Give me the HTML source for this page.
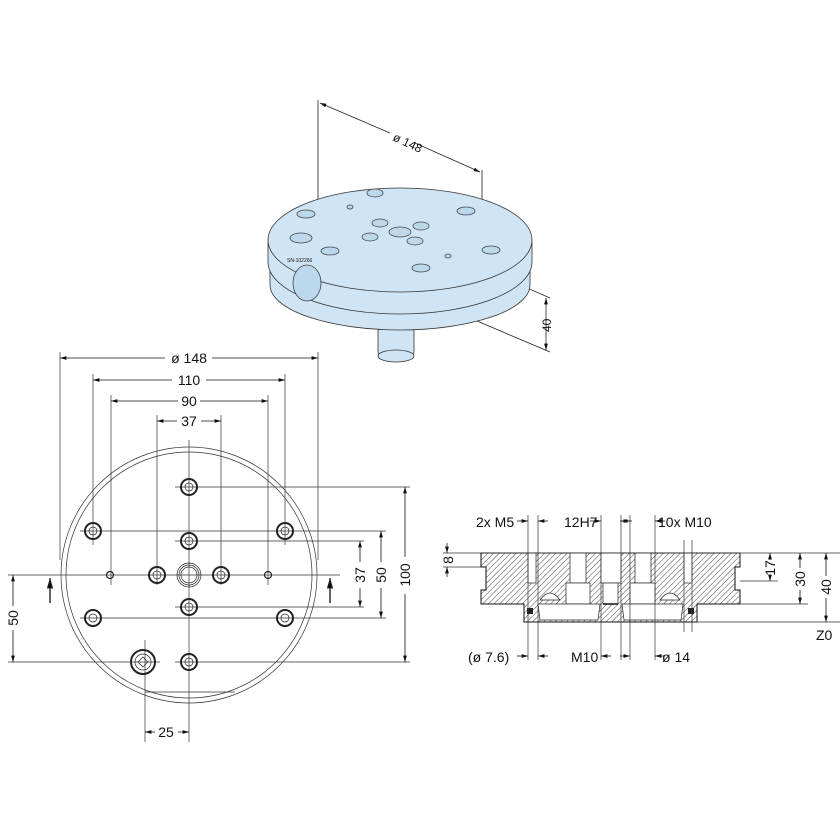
<!DOCTYPE html>
<html><head><style>
html,body{margin:0;padding:0;background:#fff}
svg{display:block}
text{font-family:"Liberation Sans",sans-serif;fill:#111}
</style></head><body>
<svg width="840" height="840" viewBox="0 0 840 840" xmlns="http://www.w3.org/2000/svg">
<defs>
<pattern id="h" width="4" height="4" patternUnits="userSpaceOnUse" patternTransform="rotate(45)">
<rect width="4" height="4" fill="#fff"/><line x1="0" y1="0" x2="0" y2="4" stroke="#333" stroke-width="0.9"/>
</pattern>
<marker id="a" viewBox="0 0 10 6" refX="10" refY="3" markerWidth="8" markerHeight="5" orient="auto-start-reverse"><path d="M0,0L10,3L0,6z" fill="#111"/></marker>
</defs>

<!-- ===== 3D view ===== -->
<g stroke="#222" stroke-width="0.8">
<line x1="318" y1="100" x2="318" y2="200"/>
<line x1="482" y1="170" x2="482" y2="270"/>
<line x1="320" y1="103" x2="390" y2="133" marker-start="url(#a)"/>
<line x1="415" y1="143" x2="480" y2="172" marker-end="url(#a)"/>
<line x1="470" y1="263" x2="550" y2="298"/>
<line x1="470" y1="318" x2="550" y2="352"/>
<line x1="546" y1="298" x2="546" y2="350" marker-end="url(#a)" marker-start="url(#a)"/>
</g>
<text x="392" y="140" font-size="12" transform="rotate(25 392 140)">ø 148</text>
<text x="551" y="332" font-size="12" transform="rotate(-90 551 332)">40</text>
<g stroke="#333" stroke-width="0.8" fill="#cfe5f5">
<rect x="378" y="318" width="36" height="38" rx="4"/>
<ellipse cx="396" cy="356" rx="18" ry="6"/>
<path d="M270,260 L270,285 A130,45 0 0 0 530,285 L530,260 Z"/>
<path d="M268,242 L268,262 A132,52 0 0 0 532,262 L532,242 Z"/>
<ellipse cx="400" cy="240" rx="132" ry="52"/>
</g>
<g stroke="#444" stroke-width="0.8" fill="#bcd8ec">
<ellipse cx="375" cy="193" rx="8" ry="4"/><ellipse cx="306" cy="214" rx="9" ry="4"/>
<ellipse cx="466" cy="211" rx="9" ry="4"/><ellipse cx="380" cy="223" rx="8" ry="4"/>
<ellipse cx="421" cy="226" rx="8" ry="4"/><ellipse cx="400" cy="232" rx="11" ry="5"/>
<ellipse cx="370" cy="237" rx="8" ry="4"/><ellipse cx="415" cy="241" rx="8" ry="4"/>
<ellipse cx="301" cy="238" rx="11" ry="5"/><ellipse cx="330" cy="251" rx="9" ry="4"/>
<ellipse cx="491" cy="250" rx="9" ry="4"/><ellipse cx="421" cy="268" rx="9" ry="4"/>
<ellipse cx="350" cy="207" rx="3" ry="2"/><ellipse cx="448" cy="256" rx="3" ry="2"/>
<ellipse cx="307" cy="283" rx="14" ry="18"/>
</g>
<text x="287" y="262" font-size="5">SN-102266</text>

<!-- ===== Plan view ===== -->
<g stroke="#333" stroke-width="0.7" fill="none">
<circle cx="189" cy="575" r="128"/>
<circle cx="189" cy="575" r="123"/>
<line x1="145" y1="692" x2="235" y2="692"/>
<line x1="60" y1="352" x2="60" y2="560"/><line x1="318" y1="352" x2="318" y2="560"/>
<line x1="93" y1="374" x2="93" y2="545"/><line x1="285" y1="374" x2="285" y2="545"/>
<line x1="111" y1="395" x2="111" y2="585"/><line x1="268" y1="395" x2="268" y2="585"/>
<line x1="157" y1="415" x2="157" y2="585"/><line x1="221" y1="415" x2="221" y2="585"/>
<line x1="189" y1="440" x2="189" y2="742"/>
<line x1="145" y1="640" x2="145" y2="742"/>
<line x1="8" y1="575" x2="340" y2="575"/>
<line x1="8" y1="662" x2="160" y2="662"/>
<line x1="175" y1="662" x2="410" y2="662"/>
<line x1="175" y1="487" x2="410" y2="487"/>
<line x1="80" y1="531" x2="386" y2="531"/>
<line x1="80" y1="618" x2="386" y2="618"/>
<line x1="175" y1="541" x2="364" y2="541"/>
<line x1="175" y1="607" x2="364" y2="607"/>
</g>
<g stroke="#111" stroke-width="0.8" fill="none">
<line x1="60" y1="358" x2="165" y2="358" marker-start="url(#a)"/><line x1="212" y1="358" x2="318" y2="358" marker-end="url(#a)"/>
<line x1="93" y1="380" x2="172" y2="380" marker-start="url(#a)"/><line x1="206" y1="380" x2="285" y2="380" marker-end="url(#a)"/>
<line x1="111" y1="401" x2="178" y2="401" marker-start="url(#a)"/><line x1="200" y1="401" x2="268" y2="401" marker-end="url(#a)"/>
<line x1="157" y1="421" x2="177" y2="421" marker-start="url(#a)"/><line x1="201" y1="421" x2="221" y2="421" marker-end="url(#a)"/>
<line x1="360" y1="541" x2="360" y2="562" marker-start="url(#a)"/><line x1="360" y1="588" x2="360" y2="607" marker-end="url(#a)"/>
<line x1="381" y1="531" x2="381" y2="562" marker-start="url(#a)"/><line x1="381" y1="588" x2="381" y2="618" marker-end="url(#a)"/>
<line x1="405" y1="487" x2="405" y2="557" marker-start="url(#a)"/><line x1="405" y1="594" x2="405" y2="662" marker-end="url(#a)"/>
<line x1="13" y1="575" x2="13" y2="606" marker-start="url(#a)"/><line x1="13" y1="630" x2="13" y2="662" marker-end="url(#a)"/>
<line x1="145" y1="732" x2="155" y2="732" marker-start="url(#a)"/><line x1="178" y1="732" x2="189" y2="732" marker-end="url(#a)"/>
<line x1="50" y1="603" x2="50" y2="578" marker-end="url(#a)" stroke-width="1.3"/>
<line x1="330" y1="603" x2="330" y2="578" marker-end="url(#a)" stroke-width="1.3"/>
</g>
<g font-size="14" text-anchor="middle">
<text x="189" y="363">ø 148</text><text x="189" y="385">110</text><text x="189" y="406">90</text><text x="189" y="426">37</text>
<text x="166" y="737">25</text>
<text transform="translate(365 575) rotate(-90)">37</text>
<text transform="translate(386 575) rotate(-90)">50</text>
<text transform="translate(410 575) rotate(-90)">100</text>
<text transform="translate(18 618) rotate(-90)">50</text>
</g>
<g stroke="#222" fill="none">
<g stroke-width="2">
<circle cx="189" cy="487" r="8"/><circle cx="93" cy="531" r="8"/><circle cx="285" cy="531" r="8"/>
<circle cx="189" cy="541" r="8"/><circle cx="157" cy="575" r="8"/><circle cx="221" cy="575" r="8"/>
<circle cx="189" cy="607" r="8"/><circle cx="93" cy="618" r="8"/><circle cx="285" cy="618" r="8"/>
<circle cx="189" cy="662" r="8"/><circle cx="143" cy="662" r="12"/>
</g>
<g stroke-width="0.7">
<circle cx="189" cy="487" r="4"/><circle cx="93" cy="531" r="4"/><circle cx="285" cy="531" r="4"/>
<circle cx="189" cy="541" r="4"/><circle cx="157" cy="575" r="4"/><circle cx="221" cy="575" r="4"/>
<circle cx="189" cy="607" r="4"/><circle cx="93" cy="618" r="4"/><circle cx="285" cy="618" r="4"/>
<circle cx="189" cy="662" r="4"/><circle cx="143" cy="662" r="8"/>
<circle cx="189" cy="575" r="12"/><circle cx="189" cy="575" r="10"/><circle cx="189" cy="575" r="8"/>
<circle cx="110" cy="575" r="3.5" stroke-width="1.2"/><circle cx="268" cy="575" r="3.5" stroke-width="1.2"/>
<path d="M143,657 L148,662 L143,667 L138,662Z"/>
</g>
</g>

<!-- ===== Section view ===== -->
<path d="M481,553 L740,553 L740,567 L735,567 L735,590 L740,590 L740,604 L697,604 L697,622 L524,622 L524,604 L481,604 L481,590 L486,590 L486,567 L481,567 Z" fill="url(#h)" stroke="#111" stroke-width="1"/>
<g fill="#fff" stroke="#222" stroke-width="0.7">
<rect x="528" y="553" width="8" height="30"/><rect x="684" y="553" width="8" height="30"/>
<rect x="570" y="553" width="16" height="30"/><rect x="566" y="583" width="24" height="21"/>
<rect x="635" y="553" width="16" height="30"/><rect x="630" y="583" width="25" height="21"/>
<rect x="601" y="553" width="20" height="30"/><rect x="603" y="583" width="15" height="21"/>
<path d="M538,604 L600,604 L598,620 L540,620 Z"/>
<path d="M622,604 L683,604 L681,620 L624,620 Z"/>
<path d="M540,600 Q550,586 560,600 Z"/><path d="M660,600 Q670,586 680,600 Z"/>
</g>
<rect x="527" y="608" width="6" height="6" fill="#222"/><rect x="688" y="608" width="6" height="6" fill="#222"/>
<line x1="603" y1="604" x2="618" y2="604" stroke="#111" stroke-width="1.5"/>
<g stroke="#333" stroke-width="0.7">
<line x1="443" y1="553" x2="840" y2="553"/><line x1="443" y1="567" x2="481" y2="567"/>
<line x1="740" y1="581" x2="778" y2="581"/><line x1="740" y1="604" x2="808" y2="604"/>
<line x1="697" y1="622" x2="840" y2="622"/>
<line x1="528" y1="515" x2="528" y2="660"/><line x1="538" y1="515" x2="538" y2="660"/>
<line x1="601" y1="515" x2="601" y2="660"/><line x1="621" y1="515" x2="621" y2="660"/>
<line x1="630" y1="515" x2="630" y2="660"/><line x1="655" y1="515" x2="655" y2="660"/>
<line x1="684" y1="540" x2="684" y2="632"/><line x1="692" y1="540" x2="692" y2="632"/>
</g>
<g stroke="#111" stroke-width="0.8">
<line x1="517" y1="521" x2="528" y2="521" marker-end="url(#a)"/><line x1="548" y1="521" x2="538" y2="521" marker-end="url(#a)"/>
<line x1="590" y1="521" x2="601" y2="521" marker-end="url(#a)"/><line x1="632" y1="521" x2="621" y2="521" marker-end="url(#a)"/>
<line x1="620" y1="521" x2="630" y2="521" marker-end="url(#a)"/><line x1="665" y1="521" x2="655" y2="521" marker-end="url(#a)"/>
<line x1="517" y1="656" x2="528" y2="656" marker-end="url(#a)"/><line x1="548" y1="656" x2="538" y2="656" marker-end="url(#a)"/>
<line x1="601" y1="656" x2="611" y2="656" marker-start="url(#a)"/>
<line x1="620" y1="656" x2="630" y2="656" marker-end="url(#a)"/><line x1="665" y1="656" x2="655" y2="656" marker-end="url(#a)"/>
<line x1="447" y1="543" x2="447" y2="553" marker-end="url(#a)"/><line x1="447" y1="577" x2="447" y2="567" marker-end="url(#a)"/>
<line x1="770" y1="553" x2="770" y2="560" marker-start="url(#a)"/><line x1="770" y1="576" x2="770" y2="581" marker-end="url(#a)"/>
<line x1="800" y1="553" x2="800" y2="568" marker-start="url(#a)"/><line x1="800" y1="590" x2="800" y2="604" marker-end="url(#a)"/>
<line x1="826" y1="553" x2="826" y2="576" marker-start="url(#a)"/><line x1="826" y1="598" x2="826" y2="622" marker-end="url(#a)"/>
</g>
<g font-size="14">
<text x="476" y="527">2x M5</text>
<text x="564" y="527">12H7</text>
<text x="658" y="527">10x M10</text>
<text x="468" y="662">(ø 7.6)</text>
<text x="571" y="662">M10</text>
<text x="662" y="662">ø 14</text>
<text x="816" y="640">Z0</text>
<text transform="translate(453 560) rotate(-90)" text-anchor="middle">8</text>
<text transform="translate(775 568) rotate(-90)" text-anchor="middle">17</text>
<text transform="translate(805 579) rotate(-90)" text-anchor="middle">30</text>
<text transform="translate(831 587) rotate(-90)" text-anchor="middle">40</text>
</g>
</svg>
</body></html>
